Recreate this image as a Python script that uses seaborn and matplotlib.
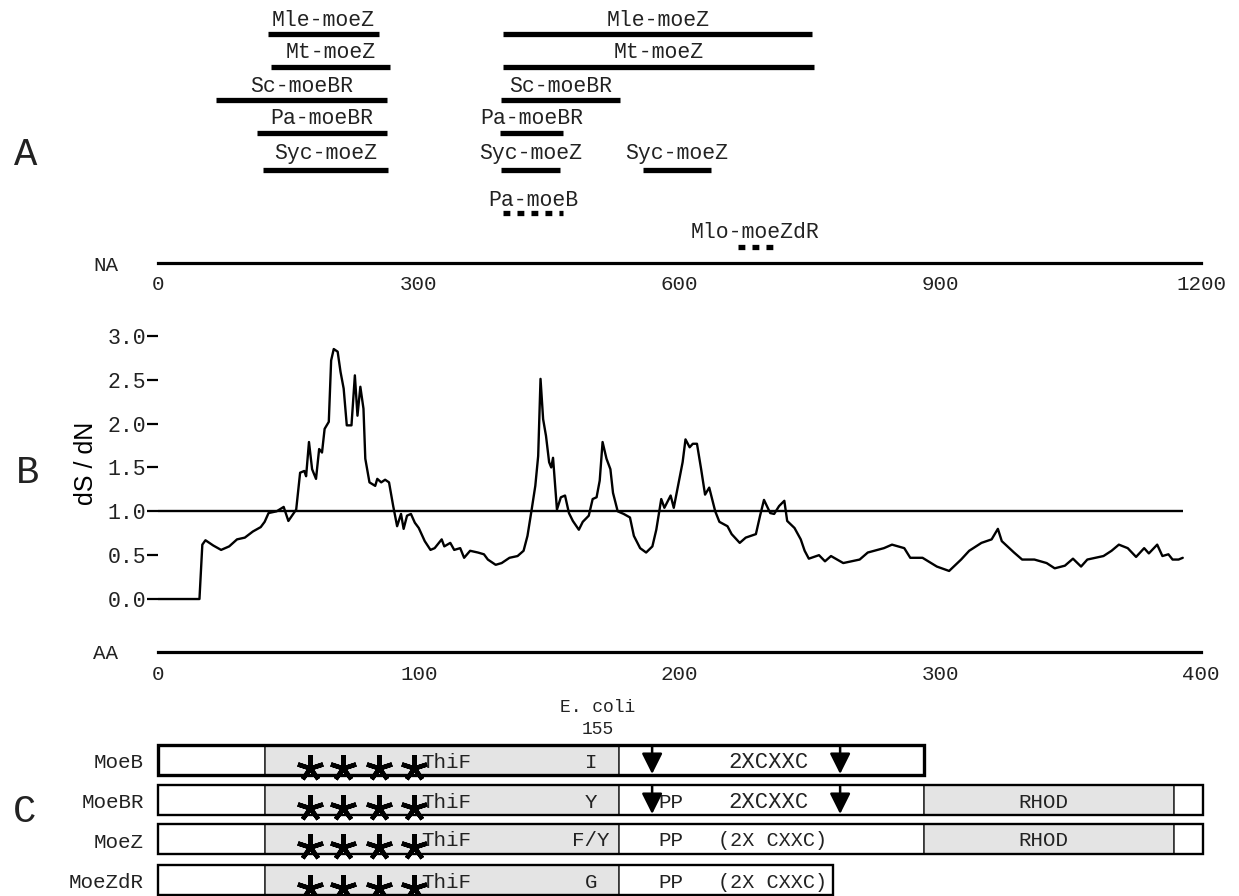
import matplotlib
matplotlib.use("Agg")
import matplotlib.pyplot as plt
from matplotlib.patches import Rectangle, ArrowStyle
import seaborn as sns

# ---------------- Panel A data (nucleotide positions) ----------------
a_labels = ["Mle-moeZ", "Mle-moeZ", "Mt-moeZ", "Mt-moeZ", "Sc-moeBR", "Sc-moeBR",
            "Pa-moeBR", "Pa-moeBR", "Syc-moeZ", "Syc-moeZ", "Syc-moeZ",
            "Pa-moeB", "Mlo-moeZdR"]
a_start = [127, 397, 130, 397, 67, 395, 114, 394, 121, 395, 558, 397, 667]
a_end = [254, 753, 267, 755, 263, 532, 263, 466, 265, 463, 636, 466, 707]
a_row = [0, 0, 1, 1, 2, 2, 3, 3, 4, 4, 4, 5, 6]
a_dotted = [False] * 11 + [True, True]
na_ticks = [0, 300, 600, 900, 1200]

# ---------------- Panel B data (sliding window dS/dN) ----------------
aa_pos = [0, 15.9, 17.0, 18.2, 21.2, 24.2, 27.3, 30.3, 33.3, 36.4,
          39.4, 40.9, 42.4, 45.5, 48.2, 50.0, 53.0, 54.5, 56.1, 56.8,
          57.9, 59.1, 60.6, 61.8, 62.9, 63.9, 65.5, 66.4, 67.4, 68.9,
          70.0, 71.2, 72.4, 74.2, 75.5, 76.5, 77.6, 78.8, 79.5, 81.1,
          83.3, 84.1, 85.6, 87.1, 88.6, 90.2, 91.7, 93.2, 94.2, 95.5,
          97.0, 98.5, 100.0, 102.3, 104.5, 106.1, 108.8, 109.8, 112.1, 113.6,
          115.9, 117.4, 119.7, 122.7, 125.0, 126.5, 129.5, 131.8, 134.8, 137.9,
          140.2, 141.7, 143.2, 144.7, 145.8, 146.7, 147.7, 148.8, 150.0, 150.8,
          151.5, 153.0, 154.5, 156.1, 157.6, 159.1, 161.4, 162.9, 165.2, 166.7,
          168.2, 169.4, 170.5, 172.0, 173.5, 174.5, 176.3, 178.6, 181.0, 182.5,
          184.9, 187.2, 189.6, 191.1, 193.0, 194.2, 196.6, 197.8, 199.7, 201.2,
          202.3, 203.9, 205.1, 206.7, 208.3, 209.8, 211.4, 213.7, 215.3, 218.4,
          220.0, 223.1, 225.4, 229.3, 230.9, 232.4, 234.8, 236.3, 238.2, 240.2,
          241.3, 244.1, 246.5, 248.0, 249.6, 253.5, 255.8, 258.1, 262.8, 269.1,
          272.2, 278.4, 281.5, 286.2, 288.5, 293.2, 298.7, 303.4, 308.0, 311.1,
          315.8, 319.7, 322.1, 323.6, 328.3, 331.4, 336.1, 340.8, 343.9, 347.8,
          350.9, 354.0, 356.4, 362.6, 365.7, 368.5, 371.9, 375.1, 378.2, 380.0,
          383.2, 385.2, 387.5, 389.1, 391.4, 393.0]
dsdn = [0.00, 0.00, 0.62, 0.67, 0.61, 0.56, 0.60, 0.68, 0.70, 0.77,
        0.82, 0.88, 0.98, 1.00, 1.05, 0.89, 1.02, 1.44, 1.46, 1.40,
        1.79, 1.48, 1.37, 1.71, 1.67, 1.94, 2.02, 2.72, 2.85, 2.82,
        2.59, 2.40, 1.98, 1.98, 2.55, 2.09, 2.42, 2.17, 1.60, 1.33,
        1.29, 1.37, 1.33, 1.36, 1.33, 1.06, 0.83, 0.97, 0.80, 0.95,
        0.97, 0.87, 0.81, 0.66, 0.56, 0.58, 0.68, 0.60, 0.64, 0.56,
        0.58, 0.47, 0.55, 0.53, 0.51, 0.45, 0.39, 0.41, 0.47, 0.49,
        0.55, 0.72, 1.00, 1.29, 1.63, 2.51, 2.05, 1.86, 1.56, 1.50,
        1.61, 1.02, 1.16, 1.18, 0.98, 0.89, 0.79, 0.88, 0.95, 1.14,
        1.16, 1.35, 1.79, 1.60, 1.48, 1.21, 1.00, 0.97, 0.93, 0.72,
        0.58, 0.53, 0.60, 0.79, 1.14, 1.04, 1.18, 1.04, 1.33, 1.56,
        1.82, 1.73, 1.77, 1.77, 1.48, 1.19, 1.27, 1.00, 0.88, 0.83,
        0.74, 0.64, 0.70, 0.74, 0.95, 1.13, 0.98, 0.97, 1.06, 1.12,
        0.89, 0.81, 0.68, 0.55, 0.46, 0.50, 0.43, 0.49, 0.41, 0.45,
        0.53, 0.58, 0.62, 0.58, 0.47, 0.47, 0.37, 0.32, 0.45, 0.55,
        0.64, 0.68, 0.80, 0.66, 0.53, 0.45, 0.45, 0.41, 0.35, 0.38,
        0.46, 0.37, 0.45, 0.49, 0.55, 0.62, 0.58, 0.48, 0.58, 0.52,
        0.62, 0.49, 0.51, 0.45, 0.45, 0.47]
ref_level = 1.0
aa_ticks = [0, 100, 200, 300, 400]
y_ticks = [0.0, 0.5, 1.0, 1.5, 2.0, 2.5, 3.0]

# ---------------- Panel C data (domain schematic, aa units) ----------------
c_names = ["MoeB", "MoeBR", "MoeZ", "MoeZdR"]
c_nterm_end = 41.0
c_thif_end = 176.8
c_mid_end = [293.8, 293.8, 293.8, 258.9]
c_rhod_end = [None, 389.6, 389.6, None]
c_total_end = [293.8, 400.8, 400.8, 258.9]
c_residue = ["I", "Y", "F/Y", "G"]
c_motif = ["2XCXXC", "2XCXXC", "(2X CXXC)", "(2X CXXC)"]
c_has_pp = [False, True, True, True]
c_has_arrows = [True, True, False, False]
arrow_pos = [189.5, 261.6]
star_pos = [58.3, 71.0, 84.8, 98.2]
thif_x = 110.6
residue_x = 166.1
pp_x = 196.8
motif_x = [234.0, 234.0, 235.5, 235.5]
rhod_x = 339.4
ecoli_x = 168.7

# ---------------- style ----------------
sns.set_style("white")
plt.rcParams["font.family"] = ["Liberation Mono", "DejaVu Sans"]
MONO = ["Liberation Mono", "DejaVu Sans"]

W, H = 1239, 896
fig = plt.figure(figsize=(W / 100, H / 100), dpi=100)
X0, X1 = 158, 1201


def axes_rect(top, bottom):
    return [X0 / W, 1 - bottom / H, (X1 - X0) / W, (bottom - top) / H]


def style_baseline_axis(ax):
    for s in ["left", "top", "right"]:
        ax.spines[s].set_visible(False)
    ax.spines["bottom"].set_linewidth(2.3)
    ax.spines["bottom"].set_color("black")
    ax.tick_params(axis="x", direction="out", length=3, width=3, color="black",
                   labelsize=15, pad=6, labelcolor="#222222")


# ---------------- Panel A ----------------
axA = fig.add_axes(axes_rect(0, 263))
axA.set_xlim(0, 1200)
axA.set_ylim(263, 0)
style_baseline_axis(axA)
axA.set_xticks(na_ticks)
axA.set_xticklabels([str(t) for t in na_ticks])
axA.set_yticks([])
row_y = [34, 67, 100, 133, 170, 213, 247]
label_y = [20, 53, 86, 119, 153, 201, 232]
for lab, s, e, r, dot in zip(a_labels, a_start, a_end, a_row, a_dotted):
    y = row_y[r]
    if dot:
        axA.hlines(y, s, e, color="black", lw=3.8, linestyles=[(0, (1.3, 1.35))],
                   capstyle="butt")
    else:
        axA.hlines(y, s, e, color="black", lw=3.8)
    axA.text((s + e) / 2, label_y[r], lab, ha="center", va="center",
             fontsize=15.5, color="#222222", family=MONO)

# ---------------- Panel B ----------------
axB = fig.add_axes(axes_rect(330, 652))
sns.lineplot(x=aa_pos, y=dsdn, ax=axB, color="black", lw=1.7, errorbar=None)
axB.hlines(ref_level, aa_pos[0], aa_pos[-1], color="black", lw=1.7)
axB.set_xlim(0, 400)
axB.set_ylim(-0.604, 3.067)
style_baseline_axis(axB)
axB.set_xticks(aa_ticks)
axB.set_xticklabels([str(t) for t in aa_ticks])
axB.set_yticks(y_ticks)
axB.set_yticklabels([f"{v:.1f}" for v in y_ticks])
axB.tick_params(axis="y", direction="out", length=8, width=1.6, color="black",
                labelsize=15.5, pad=0.5, labelcolor="#222222", left=True)
axB.set_xlabel("")
axB.set_ylabel("")
axB.grid(False)

# ---------------- Panel C ----------------
axC = fig.add_axes(axes_rect(690, 896))
axC.set_xlim(0, 400)
axC.set_ylim(896, 690)
axC.axis("off")
row_top = [745, 785, 824, 865]
row_h = 30
gray = "#e4e4e4"
for i, name in enumerate(c_names):
    top = row_top[i]
    segs = [(0, c_nterm_end, "white"), (c_nterm_end, c_thif_end, gray),
            (c_thif_end, c_mid_end[i], "white")]
    if c_rhod_end[i] is not None:
        segs.append((c_mid_end[i], c_rhod_end[i], gray))
        segs.append((c_rhod_end[i], c_total_end[i], "white"))
    for s, e, col in segs:
        axC.add_patch(Rectangle((s, top), e - s, row_h, facecolor=col,
                                edgecolor="#333333", lw=1.2, clip_on=False))
    axC.add_patch(Rectangle((0, top), c_total_end[i], row_h, facecolor="none",
                            edgecolor="black", lw=2.4 if i == 0 else 1.7,
                            clip_on=False))
    cy = top + row_h / 2
    axC.text(-5.4, cy + 3, name, ha="right", va="center", fontsize=15,
             color="#222222", family=MONO)
    axC.plot(star_pos, [top + 23] * len(star_pos), linestyle="none",
             marker=(5, 2, 0), markersize=19, markeredgewidth=3.2,
             color="black", clip_on=False)
    axC.text(thif_x, cy + 2, "ThiF", ha="center", va="center", fontsize=15,
             color="#222222", family=MONO)
    axC.text(residue_x, cy + 2, c_residue[i], ha="center", va="center",
             fontsize=15, color="#222222", family=MONO)
    if c_has_pp[i]:
        axC.text(pp_x, cy + 2, "PP", ha="center", va="center", fontsize=15,
                 color="#222222", family=MONO)
    axC.text(motif_x[i], cy + 2, c_motif[i], ha="center", va="center",
             fontsize=16 if c_motif[i] == "2XCXXC" else 14.5,
             color="#222222", family=MONO)
    if c_rhod_end[i] is not None:
        axC.text(rhod_x, cy + 2, "RHOD", ha="center", va="center",
                 fontsize=15, color="#222222", family=MONO)
    if c_has_arrows[i]:
        for ax_x in arrow_pos:
            axC.annotate("", xy=(ax_x, top + row_h - 1), xytext=(ax_x, top + 1),
                         arrowprops=dict(arrowstyle=ArrowStyle("-|>", head_length=0.7,
                                                               head_width=0.35),
                                         mutation_scale=18, lw=1.8, color="black",
                                         shrinkA=0, shrinkB=0),
                         annotation_clip=False)

axC.text(ecoli_x, 707, "E. coli", ha="center", va="center", fontsize=13,
         color="#222222", family=MONO)
axC.text(ecoli_x, 730, "155", ha="center", va="center", fontsize=13,
         color="#222222", family=MONO)

# ---------------- panel letters & axis names ----------------
fig.text(26 / W, 1 - 155 / H, "A", ha="center", va="center", fontsize=28,
         color="#222222", family=MONO)
fig.text(28 / W, 1 - 473 / H, "B", ha="center", va="center", fontsize=28,
         color="#222222", family=MONO)
fig.text(25 / W, 1 - 812 / H, "C", ha="center", va="center", fontsize=28,
         color="#222222", family=MONO)
fig.text(118 / W, 1 - 265 / H, "NA", ha="right", va="center", fontsize=15,
         color="#222222", family=MONO)
fig.text(118 / W, 1 - 653 / H, "AA", ha="right", va="center", fontsize=15,
         color="#222222", family=MONO)
fig.text(86 / W, 1 - 463 / H, "dS / dN", ha="center", va="center", rotation=90,
         fontsize=18, color="black", family=["Liberation Sans", "DejaVu Sans"])

fig.savefig("out.png", dpi=100, facecolor="white")
